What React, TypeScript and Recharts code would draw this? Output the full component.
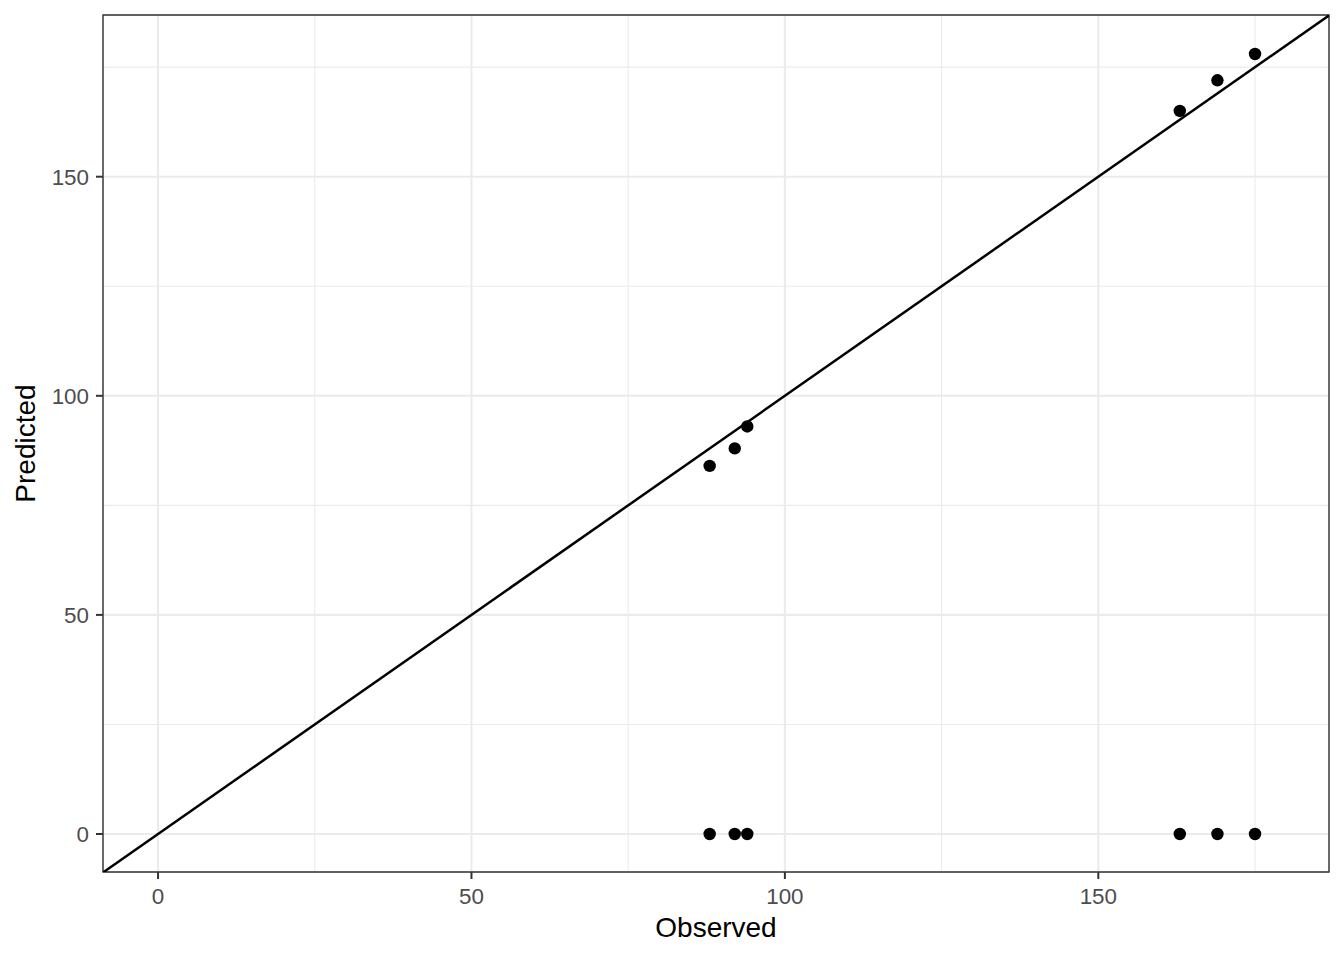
import React from "react"
import {
  ScatterChart,
  Scatter,
  XAxis,
  YAxis,
  CartesianGrid,
  ReferenceLine,
  ReferenceArea,
} from "recharts"

const observed = [88, 92, 94, 163, 169, 175, 88, 92, 94, 163, 169, 175]
const predicted = [84, 88, 93, 165, 172, 178, 0, 0, 0, 0, 0, 0]

const majorTicks = [0, 50, 100, 150]
const minorTicks = [25, 75, 125, 175]
const xDomain: [number, number] = [-8.78, 186.8]
const yDomain: [number, number] = [-8.67, 186.9]

const points = observed.map((x, i) => ({ x, y: predicted[i] }))

const FONT = '"Liberation Sans", Arial, Helvetica, sans-serif'

const toPx = (v: number, d: [number, number], start: number, size: number, flip: boolean) => {
  const t = (v - d[0]) / (d[1] - d[0])
  return flip ? start + size - t * size : start + t * size
}

export default function App() {
  return (
    <div style={{ position: "absolute", left: 0, top: 0, width: 1344, height: 960, background: "#fff" }}>
      <ScatterChart
        width={1344}
        height={960}
        margin={{ top: 15, right: 15, bottom: 0, left: 0 }}
        style={{ fontFamily: FONT }}
      >
        <CartesianGrid
          stroke="#EBEBEB"
          strokeWidth={1.1}
          verticalCoordinatesGenerator={({ xAxis, offset }: any) =>
            minorTicks.map((v) =>
              xAxis && typeof xAxis.scale === "function"
                ? xAxis.scale(v)
                : toPx(v, xDomain, offset.left, offset.width, false)
            )
          }
          horizontalCoordinatesGenerator={({ yAxis, offset }: any) =>
            minorTicks.map((v) =>
              yAxis && typeof yAxis.scale === "function"
                ? yAxis.scale(v)
                : toPx(v, yDomain, offset.top, offset.height, true)
            )
          }
        />
        <CartesianGrid stroke="#EBEBEB" strokeWidth={2.1} />
        <XAxis
          type="number"
          dataKey="x"
          domain={xDomain}
          allowDataOverflow
          ticks={majorTicks}
          height={88}
          tickSize={7}
          tickMargin={9}
          axisLine={false}
          tickLine={{ stroke: "#333333", strokeWidth: 2 }}
          tick={{ fill: "#4D4D4D", fontSize: 22.4, fontFamily: FONT }}
          label={{
            content: ({ viewBox }: any) => (
              <text
                x={viewBox.x + viewBox.width / 2}
                y={937}
                textAnchor="middle"
                fontSize={28}
                fontFamily={FONT}
                fill="#000"
              >
                Observed
              </text>
            ),
          }}
        />
        <YAxis
          type="number"
          dataKey="y"
          domain={yDomain}
          allowDataOverflow
          ticks={majorTicks}
          width={103}
          tickSize={7}
          tickMargin={7}
          axisLine={false}
          tickLine={{ stroke: "#333333", strokeWidth: 2 }}
          tick={{ fill: "#4D4D4D", fontSize: 22.4, fontFamily: FONT }}
          label={{
            content: ({ viewBox }: any) => {
              const cy = viewBox.y + viewBox.height / 2
              return (
                <text
                  x={35}
                  y={cy}
                  transform={`rotate(-90 35 ${cy})`}
                  textAnchor="middle"
                  fontSize={28}
                  fontFamily={FONT}
                  fill="#000"
                >
                  Predicted
                </text>
              )
            },
          }}
        />
        <ReferenceLine
          segment={[
            { x: -8.78, y: -8.78 },
            { x: 186.8, y: 186.8 },
          ]}
          stroke="#000"
          strokeWidth={2.5}
          ifOverflow="hidden"
        />
        <Scatter
          data={points}
          isAnimationActive={false}
          shape={(p: any) => <circle cx={p.cx} cy={p.cy} r={6.2} fill="#000" />}
        />
        <ReferenceArea
          x1={xDomain[0]}
          x2={xDomain[1]}
          y1={yDomain[0]}
          y2={yDomain[1]}
          fill="none"
          fillOpacity={0}
          stroke="#333333"
          strokeWidth={1.4}
          ifOverflow="visible"
        />
      </ScatterChart>
    </div>
  )
}
